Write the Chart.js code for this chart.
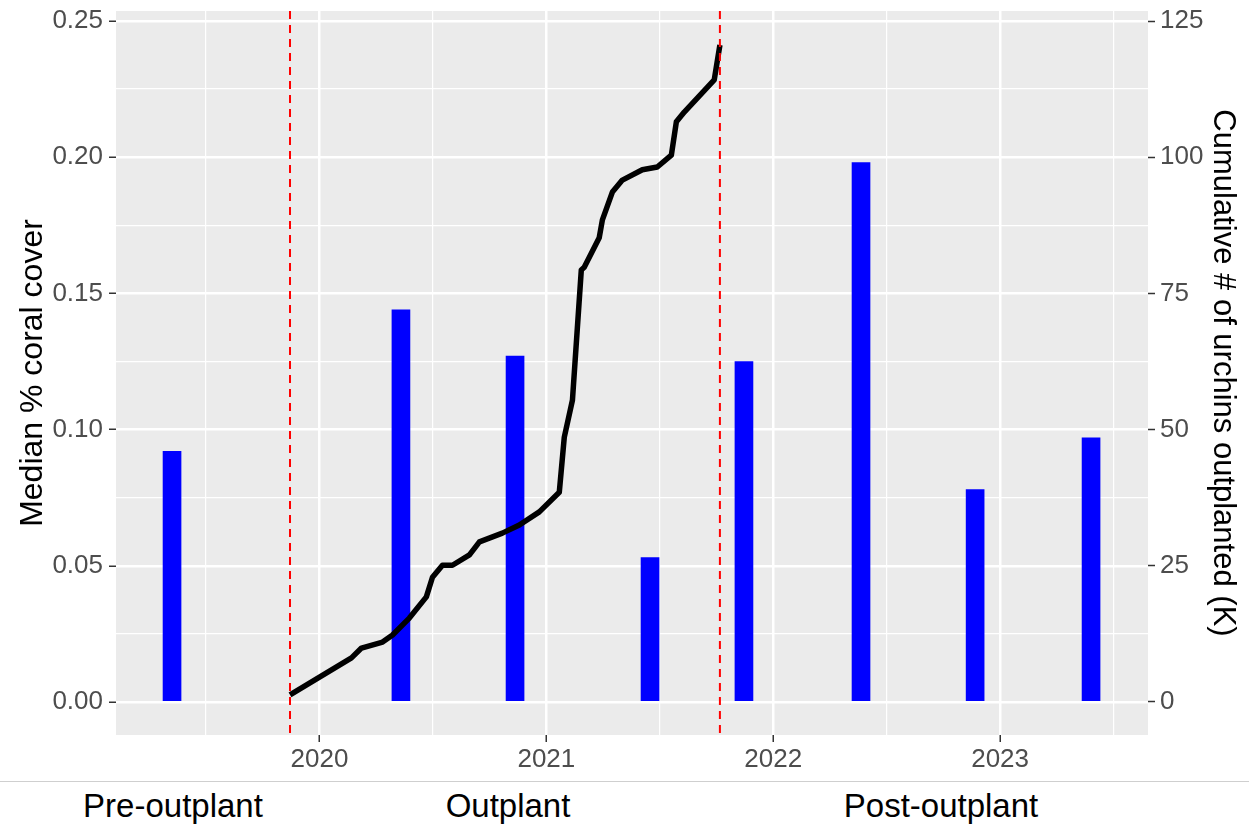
<!DOCTYPE html>
<html>
<head>
<meta charset="utf-8">
<script src="https://cdn.jsdelivr.net/npm/chart.js@4.4.1/dist/chart.umd.min.js"></script>
<style>
  body { margin: 0; background: #fff; font-family: "Liberation Sans", Arial, sans-serif; }
  #wrap { position: relative; width: 1249px; height: 832px; }
  #box { position: absolute; left: 0; top: 0; width: 1249px; height: 772px; }
  #sep { position: absolute; left: 0; top: 781px; width: 1249px; height: 0; border-top: 1.5px solid #cfcfcf; }
  .phase { position: absolute; top: 789px; font-size: 33px; line-height: 33px; color: #000; transform: translateX(-50%); white-space: nowrap; }
</style>
</head>
<body>
<div id="wrap">
  <div id="box"><canvas id="grafico"></canvas></div>
  <div id="sep"></div>
  <div class="phase" style="left:173px">Pre-outplant</div>
  <div class="phase" style="left:508px">Outplant</div>
  <div class="phase" style="left:941px">Post-outplant</div>
</div>
<script>
  // median coral cover per survey
  const surveyYears = [2019.350, 2020.359, 2020.862, 2021.457, 2021.871, 2022.387, 2022.890, 2023.401];
  const coralCover = [0.092, 0.144, 0.127, 0.053, 0.125, 0.198, 0.078, 0.097];

  // cumulative urchins outplanted (thousands)
  const urchinYears = [2019.870, 2020.141, 2020.185, 2020.278, 2020.322, 2020.396, 2020.471, 2020.498,
    2020.542, 2020.586, 2020.661, 2020.705, 2020.806, 2020.881, 2020.969, 2021.057, 2021.079,
    2021.115, 2021.154, 2021.167, 2021.233, 2021.247, 2021.291, 2021.335, 2021.423, 2021.489,
    2021.551, 2021.573, 2021.608, 2021.740, 2021.765];
  const urchinsK = [1.3, 8.1, 9.9, 11.0, 12.3, 15.4, 19.3, 22.9,
    25.1, 25.1, 27.0, 29.4, 31.0, 32.5, 34.9, 38.5, 48.6,
    55.4, 79.3, 79.8, 85.2, 88.5, 93.6, 95.8, 97.7, 98.2,
    100.4, 106.5, 108.3, 114.2, 120.6];

  // start / end of outplanting
  const phaseBreaks = [2019.870, 2021.765];

  const xTicks = [2019.5, 2020, 2020.5, 2021, 2021.5, 2022, 2022.5, 2023, 2023.5];
  const leftTicks = [0, 0.025, 0.05, 0.075, 0.1, 0.125, 0.15, 0.175, 0.2, 0.225, 0.25];
  const rightTicks = [0, 25, 50, 75, 100, 125];

  const tickFont = { family: '"Liberation Sans", Arial, sans-serif', size: 26 };
  const isMajorX = v => Math.abs(v - Math.round(v)) < 1e-6;
  const isMajorY = v => Math.abs(v / 0.05 - Math.round(v / 0.05)) < 1e-6;
  const tickVal = c => (c && c.tick) ? c.tick.value : NaN;
  const semPadding = s => { s.paddingTop = 0; s.paddingBottom = 0; s.paddingLeft = 0; s.paddingRight = 0; };

  const painelCinza = {
    id: 'painelCinza',
    beforeDraw(chart) {
      const a = chart.chartArea;
      chart.ctx.save();
      chart.ctx.fillStyle = '#EBEBEB';
      chart.ctx.fillRect(a.left, a.top, a.right - a.left, a.bottom - a.top);
      chart.ctx.restore();
    }
  };

  const linhasFase = {
    id: 'linhasFase',
    afterDatasetsDraw(chart) {
      const ctx = chart.ctx, a = chart.chartArea, x = chart.scales.x;
      ctx.save();
      ctx.strokeStyle = '#FF0000';
      ctx.lineWidth = 2;
      ctx.setLineDash([8, 6]);
      phaseBreaks.forEach(v => {
        const px = x.getPixelForValue(v);
        ctx.beginPath();
        ctx.moveTo(px, a.top);
        ctx.lineTo(px, a.bottom);
        ctx.stroke();
      });
      ctx.restore();
    }
  };

  const ctx = document.getElementById('grafico').getContext('2d');
  new Chart(ctx, {
    type: 'bar',
    data: {
      datasets: [
        {
          type: 'line',
          data: urchinYears.map((x, i) => ({ x: x, y: urchinsK[i] })),
          yAxisID: 'y2',
          borderColor: '#000000',
          borderWidth: 5.5,
          pointRadius: 0,
          tension: 0,
          borderJoinStyle: 'round',
          order: 1
        },
        {
          data: surveyYears.map((x, i) => ({ x: x, y: coralCover[i] })),
          yAxisID: 'y',
          backgroundColor: '#0000FF',
          barThickness: 18,
          order: 2
        }
      ]
    },
    options: {
      responsive: true,
      maintainAspectRatio: false,
      animation: false,
      layout: { padding: { top: 11, left: 0, right: 0, bottom: 0 } },
      plugins: { legend: { display: false }, tooltip: { enabled: false } },
      scales: {
        x: {
          type: 'linear',
          min: 2019.103,
          max: 2023.652,
          offset: false,
          border: { display: false },
          afterBuildTicks: s => { s.ticks = xTicks.map(v => ({ value: v })); },
          afterFit: s => { s.height = 37; semPadding(s); },
          grid: {
            offset: false,
            color: '#FFFFFF',
            lineWidth: c => isMajorX(tickVal(c)) ? 2.5 : 1.2,
            tickColor: c => isMajorX(tickVal(c)) ? '#333333' : 'rgba(0,0,0,0)',
            tickLength: 7,
            tickWidth: 1.5
          },
          ticks: {
            autoSkip: false,
            maxRotation: 0,
            color: '#4D4D4D',
            font: tickFont,
            padding: 2,
            callback: v => isMajorX(v) ? String(Math.round(v)) : ''
          }
        },
        y: {
          position: 'left',
          min: -0.01211,
          max: 0.25367,
          border: { display: false },
          afterBuildTicks: s => { s.ticks = leftTicks.map(v => ({ value: v })); },
          afterFit: s => { s.width = 116; semPadding(s); },
          grid: {
            color: '#FFFFFF',
            lineWidth: c => isMajorY(tickVal(c)) ? 2.5 : 1.2,
            tickColor: c => isMajorY(tickVal(c)) ? '#333333' : 'rgba(0,0,0,0)',
            tickLength: 7,
            tickWidth: 1.5
          },
          ticks: {
            autoSkip: false,
            color: '#4D4D4D',
            font: tickFont,
            padding: 6,
            callback: v => isMajorY(v) ? v.toFixed(2) : ''
          },
          title: {
            display: true,
            text: 'Median % coral cover',
            color: '#000000',
            font: { family: '"Liberation Sans", Arial, sans-serif', size: 32 },
            padding: { top: 14, bottom: 0 }
          }
        },
        y2: {
          position: 'right',
          min: -6.06,
          max: 126.84,
          border: { display: false },
          afterBuildTicks: s => { s.ticks = rightTicks.map(v => ({ value: v })); },
          afterFit: s => { s.width = 101; semPadding(s); },
          grid: {
            drawOnChartArea: false,
            color: '#333333',
            tickColor: '#333333',
            tickLength: 7,
            tickWidth: 1.5
          },
          ticks: {
            autoSkip: false,
            color: '#4D4D4D',
            font: tickFont,
            padding: 5
          },
          title: {
            display: true,
            text: 'Cumulative # of urchins outplanted (K)',
            color: '#000000',
            font: { family: '"Liberation Sans", Arial, sans-serif', size: 31 },
            padding: { top: 8, bottom: 0 }
          }
        }
      }
    },
    plugins: [painelCinza, linhasFase]
  });
</script>
</body>
</html>
